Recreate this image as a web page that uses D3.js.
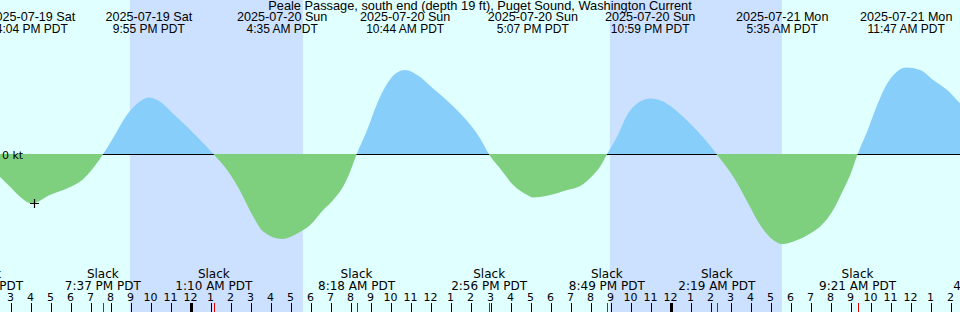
<!DOCTYPE html>
<html lang="en">
<head>
    <meta charset="UTF-8">
    <title>Peale Passage Current</title>
    <script src="https://d3js.org/d3.v7.min.js"></script>
    <style>
        body { margin: 0; padding: 0; background: #e0ffff; }
        svg { display: block; }
        .title, .event { font-family: "Liberation Sans", Arial, sans-serif; fill: #000; }
        .slack, .hour, .unit { font-family: "DejaVu Sans", sans-serif; fill: #000; }
    </style>
</head>
<body>
<div id="chart"></div>
<script>
// Chart window (48 h)
const windowStart = "2025-07-19 14:28";
const windowEnd = "2025-07-21 14:28";

// Night shading (sunset -> sunrise)
const nightStarts = ["2025-07-19 20:58", "2025-07-20 20:58"];
const nightEnds = ["2025-07-20 05:37", "2025-07-21 05:34"];

// Max flood / max ebb events (top labels)
const eventTimes = [
    "2025-07-19 16:04", "2025-07-19 21:55", "2025-07-20 04:35", "2025-07-20 10:44",
    "2025-07-20 17:07", "2025-07-20 22:59", "2025-07-21 05:35", "2025-07-21 11:47"
];

// Slack water (bottom labels)
const slackTimes = [
    "2025-07-19 13:44", "2025-07-19 19:37", "2025-07-20 01:10", "2025-07-20 08:18",
    "2025-07-20 14:56", "2025-07-20 20:49", "2025-07-21 02:19", "2025-07-21 09:21",
    "2025-07-21 16:02"
];

// Current speed, knots (+ flood, - ebb)
const curveTimes = [
    "2025-07-19 13:44", "2025-07-19 13:58", "2025-07-19 14:28", "2025-07-19 14:58", "2025-07-19 15:28",
    "2025-07-19 16:04", "2025-07-19 16:58", "2025-07-19 17:49", "2025-07-19 18:37", "2025-07-19 19:07",
    "2025-07-19 19:37", "2025-07-19 20:07", "2025-07-19 20:49", "2025-07-19 21:28", "2025-07-19 21:55",
    "2025-07-19 22:28", "2025-07-19 23:07", "2025-07-19 23:49", "2025-07-20 00:29", "2025-07-20 01:10",
    "2025-07-20 01:50", "2025-07-20 02:29", "2025-07-20 03:08", "2025-07-20 03:38", "2025-07-20 04:35",
    "2025-07-20 05:20", "2025-07-20 05:59", "2025-07-20 06:38", "2025-07-20 07:08", "2025-07-20 07:38",
    "2025-07-20 07:59", "2025-07-20 08:18", "2025-07-20 08:50", "2025-07-20 09:20", "2025-07-20 09:50",
    "2025-07-20 10:20", "2025-07-20 10:44", "2025-07-20 11:20", "2025-07-20 12:08", "2025-07-20 12:59",
    "2025-07-20 13:38", "2025-07-20 14:29", "2025-07-20 14:56", "2025-07-20 15:29", "2025-07-20 16:08",
    "2025-07-20 16:50", "2025-07-20 17:07", "2025-07-20 17:59", "2025-07-20 18:50", "2025-07-20 19:29",
    "2025-07-20 20:08", "2025-07-20 20:29", "2025-07-20 20:49", "2025-07-20 21:20", "2025-07-20 21:50",
    "2025-07-20 22:29", "2025-07-20 22:59", "2025-07-20 23:38", "2025-07-21 00:20", "2025-07-21 00:59",
    "2025-07-21 01:38", "2025-07-21 02:08", "2025-07-21 02:19", "2025-07-21 03:08", "2025-07-21 03:50",
    "2025-07-21 04:29", "2025-07-21 05:08", "2025-07-21 05:35", "2025-07-21 06:20", "2025-07-21 06:59",
    "2025-07-21 07:38", "2025-07-21 08:08", "2025-07-21 08:38", "2025-07-21 08:59", "2025-07-21 09:21",
    "2025-07-21 09:50", "2025-07-21 10:20", "2025-07-21 10:50", "2025-07-21 11:20", "2025-07-21 11:47",
    "2025-07-21 12:29", "2025-07-21 13:08", "2025-07-21 13:50", "2025-07-21 14:29", "2025-07-21 14:58"
];
const curveKnots = [
     0.00, -0.12, -0.22, -0.32, -0.42,
    -0.49, -0.405, -0.34, -0.25, -0.14,
     0.00,  0.16,  0.395, 0.53,  0.57,
     0.53,  0.41,  0.28,  0.145, 0.00,
    -0.155, -0.365, -0.62, -0.77, -0.845,
    -0.79, -0.705, -0.555, -0.455, -0.32,
    -0.17,  0.00,  0.245, 0.51,  0.71,
     0.82,  0.845, 0.795, 0.66,  0.51,
     0.38,  0.16,  0.00, -0.14, -0.305,
    -0.405, -0.43, -0.405, -0.355, -0.315,
    -0.205, -0.12, 0.00,  0.18,  0.395,
     0.53,  0.56,  0.53,  0.43,  0.31,
     0.17,  0.05,  0.00, -0.22, -0.47,
    -0.705, -0.855, -0.895, -0.855, -0.79,
    -0.69, -0.555, -0.355, -0.205, 0.00,
     0.23,  0.495, 0.71,  0.83,  0.87,
     0.845, 0.745, 0.645, 0.51,  0.41
];

// "now" cross marker
const nowTime = "2025-07-19 16:12";
const nowKnots = -0.49;

const titleText = "Peale Passage, south end (depth 19 ft), Puget Sound, Washington Current";

const width = 960, height = 312;
const parse = d3.timeParse("%Y-%m-%d %H:%M");

const x = d3.scaleTime()
    .domain([parse(windowStart), parse(windowEnd)])
    .range([0, width]);
x.domain([new Date(+x.domain()[0] + 30000), new Date(+x.domain()[1] + 30000)]);

const y = d3.scaleLinear()
    .domain([-1, 1])
    .range([254.5, 54.5]);

const svg = d3.select("#chart").append("svg")
    .attr("width", width)
    .attr("height", height);

svg.append("rect")
    .attr("width", width).attr("height", height)
    .attr("fill", "#e0ffff");

// night bands
svg.selectAll("rect.night")
    .data(d3.zip(nightStarts, nightEnds))
    .enter().append("rect")
    .attr("class", "night")
    .attr("x", d => x(parse(d[0])))
    .attr("width", d => x(parse(d[1])) - x(parse(d[0])))
    .attr("y", 0)
    .attr("height", height)
    .attr("fill", "#cce0ff");

const points = curveTimes.map((t, i) => ({ t: parse(t), v: curveKnots[i] }));
const y0 = y(0);

const defs = svg.append("defs");
defs.append("clipPath").attr("id", "above")
    .append("rect").attr("x", -20).attr("y", 0).attr("width", width + 40).attr("height", y0);
defs.append("clipPath").attr("id", "below")
    .append("rect").attr("x", -20).attr("y", y0 - 0.5).attr("width", width + 40).attr("height", height);

const floodArea = d3.area()
    .x(d => x(d.t))
    .y0(y0)
    .y1(d => y(d.v))
    .curve(d3.curveMonotoneX);

const ebbArea = d3.area()
    .x(d => x(d.t))
    .y0(y0 - 0.5)
    .y1(d => y(d.v))
    .curve(d3.curveMonotoneX);

svg.append("path")
    .datum(points)
    .attr("d", floodArea)
    .attr("fill", "#87cefa")
    .attr("clip-path", "url(#above)");

// zero line
svg.append("line")
    .attr("x1", 0).attr("x2", width)
    .attr("y1", y0).attr("y2", y0)
    .attr("stroke", "#000")
    .attr("stroke-width", 1);

svg.append("path")
    .datum(points)
    .attr("d", ebbArea)
    .attr("fill", "#7ecf7e")
    .attr("clip-path", "url(#below)");

svg.append("text")
    .attr("class", "unit")
    .attr("x", 2)
    .attr("y", y0 + 4)
    .attr("font-size", "11px")
    .text("0 kt");

// now marker
const nx = x(parse(nowTime)), ny = y(nowKnots);
svg.append("path")
    .attr("d", `M${nx - 4.5},${ny}H${nx + 4.5}M${nx},${ny - 4.5}V${ny + 4.5}`)
    .attr("stroke", "#000")
    .attr("stroke-width", 1.2);

// title
svg.append("text")
    .attr("class", "title")
    .attr("x", width / 2)
    .attr("y", 10)
    .attr("text-anchor", "middle")
    .attr("font-size", "12.8px")
    .text(titleText);

// event labels
const fmtDate = d3.timeFormat("%Y-%m-%d %a");
const fmtTime = d3.timeFormat("%-I:%M %p PDT");

const ev = svg.selectAll("g.event")
    .data(eventTimes.map(parse))
    .enter().append("g")
    .attr("class", "event")
    .attr("transform", d => `translate(${x(d)},0)`);
ev.append("text")
    .attr("class", "event")
    .attr("y", 21).attr("text-anchor", "middle").attr("font-size", "12.6px")
    .text(d => fmtDate(d));
ev.append("text")
    .attr("class", "event")
    .attr("y", 33).attr("text-anchor", "middle").attr("font-size", "12px")
    .text(d => fmtTime(d));

// slack labels
const sl = svg.selectAll("g.slackg")
    .data(slackTimes.map(parse))
    .enter().append("g")
    .attr("class", "slackg")
    .attr("transform", d => `translate(${x(d)},0)`);
sl.append("text")
    .attr("class", "slack")
    .attr("y", 278).attr("text-anchor", "middle").attr("font-size", "12px")
    .text("Slack");
sl.append("text")
    .attr("class", "slack")
    .attr("y", 290).attr("text-anchor", "middle").attr("font-size", "12px")
    .text(d => fmtTime(d));

// hour axis
const hours = x.ticks(d3.timeHour.every(1));
const axis = svg.append("g");
axis.selectAll("text")
    .data(hours)
    .enter().append("text")
    .attr("class", "hour")
    .attr("x", d => x(d))
    .attr("y", 301)
    .attr("text-anchor", "middle")
    .attr("font-size", "11px")
    .text(d => d3.timeFormat("%-I")(d));
axis.selectAll("line")
    .data(hours)
    .enter().append("line")
    .attr("x1", d => Math.round(x(d)) + 0.5)
    .attr("x2", d => Math.round(x(d)) + 0.5)
    .attr("y1", 303)
    .attr("y2", height)
    .attr("stroke", "#000")
    .attr("stroke-width", d => d.getHours() === 0 ? 3 : 1);

svg.append("g").selectAll("line")
    .data(slackTimes.map(parse))
    .enter().append("line")
    .attr("x1", d => Math.round(x(d)) + 0.5)
    .attr("x2", d => Math.round(x(d)) + 0.5)
    .attr("y1", 303)
    .attr("y2", height)
    .attr("stroke", "#e00000")
    .attr("stroke-width", 1);
</script>
</body>
</html>
